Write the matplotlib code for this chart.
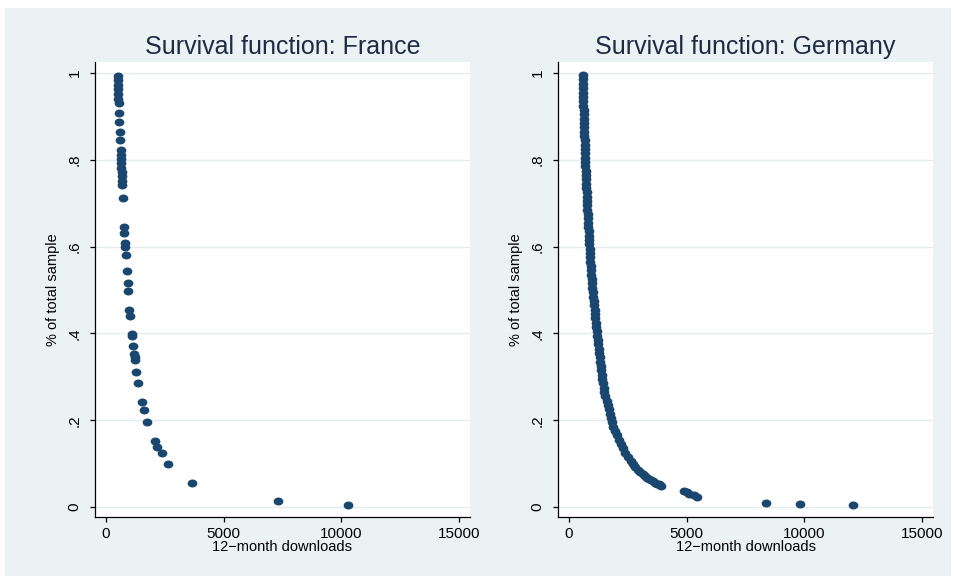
import matplotlib
matplotlib.use("Agg")
import matplotlib.pyplot as plt
from matplotlib.patches import Rectangle
from matplotlib.path import Path
import numpy as np

# Survival function of 12-month downloads, France
france_downloads = [500, 510, 515, 520, 525, 530, 535, 565, 570, 595, 600,
                    625, 632, 640, 648, 655, 662, 668, 675, 682, 710,
                    765, 768, 807, 815, 837, 880, 947, 950, 990, 1020,
                    1092, 1100, 1150, 1200, 1215, 1232, 1274, 1372, 1517,
                    1614, 1754, 2082, 2180, 2366, 2647, 3653, 7300, 10290]
france_share = [0.993, 0.983, 0.973, 0.962, 0.951, 0.940, 0.930, 0.907, 0.888,
                0.865, 0.846, 0.822, 0.812, 0.802, 0.792, 0.782, 0.772, 0.762,
                0.752, 0.742, 0.713, 0.644, 0.632, 0.609, 0.599, 0.581, 0.544,
                0.517, 0.497, 0.455, 0.440, 0.399, 0.394, 0.370, 0.353, 0.345,
                0.339, 0.312, 0.285, 0.243, 0.224, 0.197, 0.153, 0.139, 0.124,
                0.098, 0.055, 0.015, 0.005]

# Survival function of 12-month downloads, Germany
germany_downloads = [580, 585, 590, 595, 600, 605, 610, 616, 622, 627, 633,
                     639, 645, 651, 657, 663, 669, 675, 681, 687, 694, 701,
                     709, 717, 725, 733, 741, 749, 757, 765, 775, 785, 795,
                     805, 815, 825, 834, 844, 854, 864, 875, 887, 900, 913,
                     926, 940, 954, 968, 982, 996, 1012, 1030, 1048, 1066,
                     1084, 1102, 1120, 1138, 1157, 1176, 1195, 1215, 1235,
                     1255, 1275, 1297, 1320, 1345, 1370, 1395, 1420, 1448,
                     1477, 1506, 1536, 1600, 1645, 1690, 1730, 1770, 1820,
                     1870, 1935, 2040, 2130, 2210, 2290, 2380, 2490, 2630,
                     2720, 2820, 2930, 3030, 3130, 3220, 3320, 3400, 3480,
                     3570, 3660, 3740, 3810, 3870, 3920, 4870, 5000, 5120,
                     5300, 5460, 8370, 9800, 12050]
germany_share = [0.995, 0.985, 0.975, 0.965, 0.955, 0.945, 0.935, 0.925, 0.915,
                 0.905, 0.895, 0.885, 0.875, 0.865, 0.855, 0.845, 0.835, 0.825,
                 0.815, 0.805, 0.795, 0.785, 0.775, 0.765, 0.755, 0.745, 0.735,
                 0.725, 0.715, 0.705, 0.695, 0.685, 0.675, 0.665, 0.655, 0.645,
                 0.635, 0.625, 0.615, 0.605, 0.595, 0.585, 0.575, 0.565, 0.555,
                 0.545, 0.535, 0.525, 0.515, 0.505, 0.495, 0.485, 0.475, 0.465,
                 0.455, 0.445, 0.435, 0.425, 0.415, 0.405, 0.395, 0.385, 0.375,
                 0.365, 0.355, 0.345, 0.335, 0.325, 0.315, 0.305, 0.295, 0.285,
                 0.275, 0.265, 0.255, 0.245, 0.235, 0.225, 0.215, 0.205, 0.195,
                 0.185, 0.175, 0.165, 0.155, 0.145, 0.135, 0.125, 0.115, 0.105,
                 0.098, 0.092, 0.086, 0.081, 0.076, 0.072, 0.068, 0.065, 0.062,
                 0.059, 0.056, 0.054, 0.052, 0.050, 0.048, 0.038, 0.035, 0.031,
                 0.028, 0.024, 0.009, 0.006, 0.004]

titles = ["Survival function: France", "Survival function: Germany"]
x_ticks = [0, 5000, 10000, 15000]
x_tick_labels = ["0", "5000", "10000", "15000"]
y_ticks = [0, 0.2, 0.4, 0.6, 0.8, 1.0]
y_tick_labels = ["0", ".2", ".4", ".6", ".8", "1"]
x_title = "12\u2212month downloads"
y_title = "% of total sample"

plt.rcParams["font.family"] = ["Liberation Sans", "DejaVu Sans"]

W, H = 957, 581
fig = plt.figure(figsize=(W / 100, H / 100), dpi=100)
fig.patch.set_facecolor("white")

# light bluish graph region
fig.patches.append(Rectangle((5 / W, 1 - 576 / H), (951 - 5) / W, (576 - 8) / H,
                             transform=fig.transFigure, facecolor="#EAF2F3",
                             edgecolor="none", zorder=-10))

navy = "#1A476F"
circle = Path.unit_circle()
oval = Path(circle.vertices * np.array([1.0, 0.82]), circle.codes)

panels = [(95, france_downloads, france_share), (558, germany_downloads, germany_share)]
top_px, bot_px, width_px = 62, 517, 375

for (left_px, xs, ys), title in zip(panels, titles):
    ax = fig.add_axes([left_px / W, 1 - bot_px / H, width_px / W, (bot_px - top_px) / H])
    ax.set_facecolor("white")
    ax.plot(xs, ys, linestyle="none", marker=oval, markersize=7.0,
            color=navy, markeredgewidth=0, zorder=3)
    ax.set_xlim(-467, 15467)
    ax.set_ylim(-0.023, 1.0253)
    ax.set_xticks(x_ticks)
    ax.set_xticklabels(x_tick_labels)
    ax.set_yticks(y_ticks)
    ax.set_yticklabels(y_tick_labels, rotation=90, va="center")
    ax.yaxis.grid(True, color="#E3ECEE", linewidth=1.0)
    ax.set_axisbelow(True)
    for side in ("top", "right"):
        ax.spines[side].set_visible(False)
    for side in ("left", "bottom"):
        ax.spines[side].set_color("black")
        ax.spines[side].set_linewidth(0.9)
    ax.tick_params(axis="both", direction="out", length=3.6, width=0.9,
                   color="black", labelsize=11, labelcolor="black")
    ax.tick_params(axis="y", pad=6)
    ax.tick_params(axis="x", pad=3.5)

    h = bot_px - top_px
    ax.text(0.5, (bot_px - 47) / h, title, transform=ax.transAxes,
            ha="center", va="center", fontsize=18, color="#1F2A44")
    ax.text(0.5, (bot_px - 547) / h, x_title, transform=ax.transAxes,
            ha="center", va="center", fontsize=10.5, color="black")
    ax.text(-42 / width_px, 0.5, y_title, transform=ax.transAxes,
            ha="center", va="center", rotation=90, fontsize=10.5, color="black")

fig.savefig("out.png", dpi=100, facecolor=fig.get_facecolor())
